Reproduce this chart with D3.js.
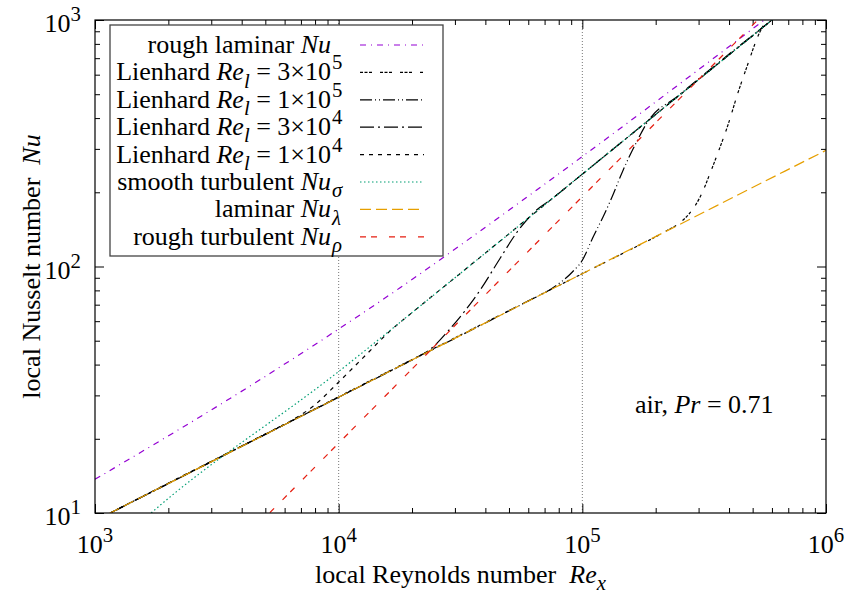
<!DOCTYPE html>
<html>
<head>
<meta charset="utf-8">
<script src="https://cdn.jsdelivr.net/npm/d3@7"></script>
<style>
  body { margin: 0; background: #fff; }
  text { font-family: "Liberation Serif", "Times New Roman", serif; white-space: pre; }
</style>
</head>
<body>
<svg id="chart" width="845" height="594"></svg>
<script>
// values: [Re_x, Nu]
var roughLaminar = [[1e3, 13.7], [4.75e3, 34.7], [1.78e4, 81.8], [5.7e4, 186], [5.6e5, 1003]]
var lienhard3e5 = [[1e3, 9.3], [1e5, 93.5], [1.6e5, 118], [2e5, 132], [2.2e5, 139], [2.5e5, 150], [2.75e5, 164], [3.04e5, 191], [3.41e5, 251], [3.6e5, 289], [3.96e5, 375], [4.35e5, 506], [4.73e5, 644], [5.35e5, 893], [5.72e5, 1000]]
var lienhard1e5 = [[1e3, 9.3], [1e4, 29.5], [2e4, 41.8], [4e4, 59], [6e4, 72.5], [7.5e4, 81.5], [9.1e4, 95], [1e5, 106], [1.1e5, 130], [1.22e5, 160], [1.32e5, 190], [1.47e5, 246], [1.67e5, 320], [1.84e5, 382], [2.5e5, 496], [6e5, 1000]]
var lienhard3e4 = [[1e3, 9.3], [1e4, 29.5], [1.6e4, 37.3], [2e4, 41.8], [2.4e4, 46.5], [2.87e4, 56], [3.8e4, 80], [4.6e4, 108], [5.4e4, 138], [6.3e4, 165], [7.6e4, 190], [1e5, 237], [6e5, 1000]]
var lienhard1e4 = [[1e3, 9.3], [3e3, 16.2], [5e3, 20.9], [6.3e3, 23.5], [8e3, 27.5], [9.8e3, 33.3], [1.3e4, 44], [1.6e4, 54], [2e4, 65], [3e4, 90], [1e5, 237], [6e5, 1000]]
var smoothTurbulent = [[1e3, 6.2], [1.7e3, 10], [1e4, 37.5], [3e4, 90], [1e5, 237], [6e5, 1000]]
var laminar = [[1e3, 9.3], [1e4, 29.5], [1e5, 93.5], [1e6, 296]]
var roughTurbulent = [[4e3, 7.7], [1e4, 19.2], [1e5, 192], [5.3e5, 1010]]

var xMajor = [1e3, 1e4, 1e5, 1e6]
var yMajor = [1e1, 1e2, 1e3]
var gridX = [1e4, 1e5]

;(function () {
  var series = [
    { name: [['rough laminar '], ['Nu', 'i']], tail: [], data: roughLaminar, color: '#9400d3', dash: '6,5,1,5' },
    { name: [['Lienhard '], ['Re', 'i'], ['l', 'i', 'sub'], [' = 3\u00d710']], tail: [['5', '', 'sup']], data: lienhard3e5, color: '#000', dash: '3,1.5,3,1.5,3,8' },
    { name: [['Lienhard '], ['Re', 'i'], ['l', 'i', 'sub'], [' = 1\u00d710']], tail: [['5', '', 'sup']], data: lienhard1e5, color: '#000', dash: '12,3,1,3,1,3' },
    { name: [['Lienhard '], ['Re', 'i'], ['l', 'i', 'sub'], [' = 3\u00d710']], tail: [['4', '', 'sup']], data: lienhard3e4, color: '#000', dash: '14,4,2,4' },
    { name: [['Lienhard '], ['Re', 'i'], ['l', 'i', 'sub'], [' = 1\u00d710']], tail: [['4', '', 'sup']], data: lienhard1e4, color: '#000', dash: '4,5' },
    { name: [['smooth turbulent '], ['Nu', 'i']], tail: [['\u03c3', 'i', 'sub']], data: smoothTurbulent, color: '#009e73', dash: '1.5,2.5' },
    { name: [['laminar '], ['Nu', 'i']], tail: [['\u03bb', 'i', 'sub']], data: laminar, color: '#e69f00', dash: '11,5' },
    { name: [['rough turbulent '], ['Nu', 'i']], tail: [['\u03c1', 'i', 'sub']], data: roughTurbulent, color: '#e51e10', dash: '6,5,6,12' }
  ]

  var FS = 26
  var svg = d3.select('#chart')
  var pLeft = 95, pRight = 826, pTop = 20, pBottom = 513

  var x = d3.scaleLog().domain([1e3, 1e6]).range([pLeft, pRight])
  var y = d3.scaleLog().domain([10, 1000]).range([pBottom, pTop])

  // rich text: parts are [text, 'i'?, 'sub'|'sup'?]
  function rich (textSel, parts, size) {
    var shift = 0
    parts.forEach(function (p) {
      var ts = textSel.append('tspan').text(p[0])
      var target = p[2] === 'sub' ? 0.28 * size : (p[2] === 'sup' ? -0.42 * size : 0)
      ts.attr('dy', target - shift)
      shift = target
      if (p[2]) ts.attr('font-size', size * 0.8)
      if (p[1] === 'i') ts.attr('font-style', 'italic')
    })
    return textSel
  }

  svg.append('defs').append('clipPath').attr('id', 'plotClip')
    .append('rect').attr('x', pLeft).attr('y', pTop).attr('width', pRight - pLeft).attr('height', pBottom - pTop)

  // grid lines
  svg.append('g').selectAll('line').data(gridX).enter().append('line')
    .attr('x1', function (d) { return x(d) }).attr('x2', function (d) { return x(d) })
    .attr('y1', pTop).attr('y2', pBottom)
    .attr('stroke', '#777').attr('stroke-width', 1).attr('stroke-dasharray', '1,2')

  // ticks
  var xMinor = []
  var yMinor = []
  xMajor.slice(0, -1).forEach(function (d) { for (var k = 2; k < 10; k++) xMinor.push(d * k) })
  yMajor.slice(0, -1).forEach(function (d) { for (var k = 2; k < 10; k++) yMinor.push(d * k) })

  function tickAxis (axis, vals, size, transform) {
    svg.append('g').attr('transform', transform)
      .call(axis.tickValues(vals).tickSizeInner(size).tickSizeOuter(0).tickFormat(''))
      .call(function (g) { g.select('.domain').remove() })
      .selectAll('line').attr('stroke', '#000')
  }
  tickAxis(d3.axisBottom(x), xMajor, -9, 'translate(0,' + pBottom + ')')
  tickAxis(d3.axisBottom(x), xMinor, -5, 'translate(0,' + pBottom + ')')
  tickAxis(d3.axisTop(x), xMajor, -9, 'translate(0,' + pTop + ')')
  tickAxis(d3.axisTop(x), xMinor, -5, 'translate(0,' + pTop + ')')
  tickAxis(d3.axisLeft(y), yMajor, -9, 'translate(' + pLeft + ',0)')
  tickAxis(d3.axisLeft(y), yMinor, -5, 'translate(' + pLeft + ',0)')
  tickAxis(d3.axisRight(y), yMajor, -9, 'translate(' + pRight + ',0)')
  tickAxis(d3.axisRight(y), yMinor, -5, 'translate(' + pRight + ',0)')

  // tick labels
  xMajor.forEach(function (d) {
    var t = svg.append('text').attr('x', x(d)).attr('y', pBottom + 40)
      .attr('text-anchor', 'middle').attr('font-size', FS)
    rich(t, [['10'], [String(Math.round(Math.log10(d))), '', 'sup']], FS)
  })
  yMajor.forEach(function (d) {
    var t = svg.append('text').attr('x', 81).attr('y', y(d) + 12)
      .attr('text-anchor', 'end').attr('font-size', FS)
    rich(t, [['10'], [String(Math.round(Math.log10(d))), '', 'sup']], FS)
  })

  // curves
  var line = d3.line()
    .x(function (d) { return x(d[0]) })
    .y(function (d) { return y(d[1]) })
    .curve(d3.curveMonotoneX)

  svg.append('g').attr('clip-path', 'url(#plotClip)')
    .selectAll('path').data(series).enter().append('path')
    .attr('d', function (d) { return line(d.data) })
    .attr('fill', 'none')
    .attr('stroke', function (d) { return d.color })
    .attr('stroke-width', 1.2)
    .attr('stroke-dasharray', function (d) { return d.dash })

  // border
  svg.append('rect').attr('x', pLeft).attr('y', pTop).attr('width', pRight - pLeft).attr('height', pBottom - pTop)
    .attr('fill', 'none').attr('stroke', '#000').attr('stroke-width', 1.2)

  // legend
  var legend = svg.append('g')
  legend.append('rect').attr('x', 110).attr('y', 25).attr('width', 333).attr('height', 231)
    .attr('fill', '#fff').attr('stroke', '#444').attr('stroke-width', 1.3)
  series.forEach(function (s, i) {
    var ly = 45 + i * 27.4
    rich(legend.append('text').attr('x', 331).attr('y', ly + 8).attr('text-anchor', 'end').attr('font-size', FS), s.name, FS)
    if (s.tail.length) rich(legend.append('text').attr('x', 332).attr('y', ly + 8).attr('font-size', FS), s.tail, FS)
    legend.append('line').attr('x1', 360).attr('x2', 424).attr('y1', ly).attr('y2', ly)
      .attr('stroke', s.color).attr('stroke-width', 1.2).attr('stroke-dasharray', s.dash)
  })

  // annotation
  rich(svg.append('text').attr('x', 635).attr('y', 413).attr('font-size', FS), [['air, '], ['Pr', 'i'], [' = 0.71']], FS)

  // axis titles
  rich(svg.append('text').attr('x', (pLeft + pRight) / 2).attr('y', 583).attr('text-anchor', 'middle').attr('font-size', FS),
    [['local Reynolds number  '], ['Re', 'i'], ['x', 'i', 'sub']], FS)
  rich(svg.append('text').attr('transform', 'translate(40,' + (pTop + pBottom) / 2 + ') rotate(-90)')
    .attr('text-anchor', 'middle').attr('font-size', FS),
    [['local Nusselt number  '], ['Nu', 'i']], FS)
})()
</script>
</body>
</html>
